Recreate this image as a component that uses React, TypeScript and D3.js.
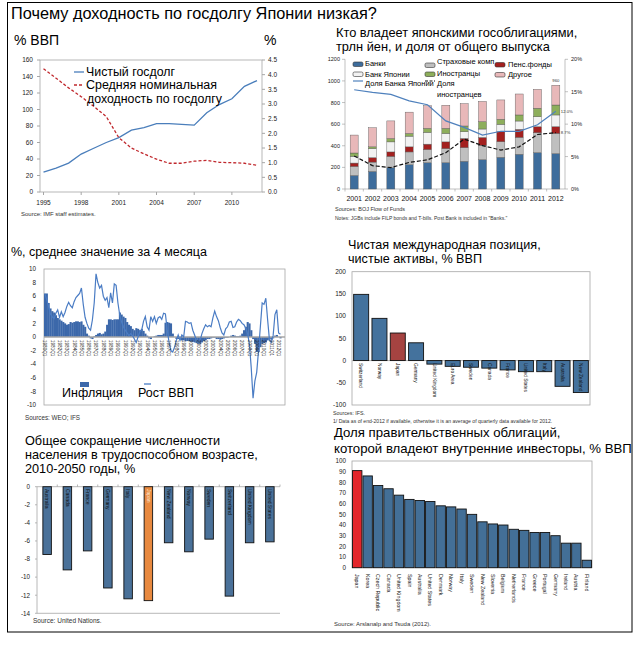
import React from "react";
import * as d3 from "d3";

const FONT = "'Liberation Sans', Arial, Helvetica, sans-serif";

// ---------------- Panel 1: net debt & average yield
const debtYears = [1995, 1996, 1997, 1998, 1999, 2000, 2001, 2002, 2003, 2004, 2005, 2006, 2007, 2008, 2009, 2010, 2011, 2012];
const netDebt = [24, 29, 35, 46, 53, 60, 66, 75, 78, 83, 83, 82, 81, 96, 106, 113, 128, 135];
const avgYield = [4.2, 3.88, 3.55, 3.25, 2.92, 2.57, 1.85, 1.5, 1.3, 1.12, 0.98, 0.98, 1.05, 1.08, 1.01, 1.0, 0.98, 0.91];
const debtTickYears = [1995, 1998, 2001, 2004, 2007, 2010];
const debtLeftTicks = [0, 20, 40, 60, 80, 100, 120, 140, 160];
const debtRightTicks = [0, 0.5, 1, 1.5, 2, 2.5, 3, 3.5, 4, 4.5];

// ---------------- Panel 2: JGB holders
const jgbYears = ["2001", "2002", "2003", "2004", "2005", "2006", "2007", "2008", "2009", "2010", "2011", "2012"];
const jgbBanks = [125, 162, 196, 224, 243, 243, 256, 271, 293, 321, 336, 327];
const jgbInsurers = [84, 87, 106, 119, 122, 131, 127, 134, 145, 157, 185, 188];
const jgbPension = [31, 41, 41, 47, 50, 62, 85, 72, 93, 74, 56, 62];
const jgbBoj = [62, 84, 93, 99, 109, 78, 62, 78, 67, 77, 92, 108];
const jgbForeign = [31, 16, 31, 25, 37, 47, 53, 68, 47, 56, 78, 92];
const jgbOther = [166, 177, 163, 197, 209, 214, 207, 187, 179, 194, 175, 183];
const bojShare = [15.3, 14.9, 14.6, 13.6, 13.0, 10.5, 9.5, 8.3, 8.9, 8.9, 9.9, 12.0];
const foreignShare = [5.1, 3.6, 3.3, 4.1, 4.5, 5.6, 7.7, 6.7, 6.0, 6.5, 8.4, 8.7];
const jgbLeftTicks = [0, 200, 400, 600, 800, 1000, 1200];
const jgbRightTicks = [0, 5, 10, 15, 20];

// ---------------- Panel 3: inflation & GDP growth (quarterly)
const quarterLabelYears = d3.range(1980, 2013);
const inflation = [
  6.4, 6.4, 5.0, 4.2, 3.8, 3.6, 3.2, 2.8, 2.6, 2.4, 2.2, 2.0, 1.8, 1.9, 2.2, 2.1, 2.2, 2.3, 2.3, 2.2,
  2.3, 1.8, 1.5, 0.5, 0.2, -0.2, -0.3, 0.1, 0.3, 0.5, 0.6, 0.4, 0.5, 0.8, 1.8, 2.6, 2.6, 2.5, 2.6, 2.6,
  2.6, 3.6, 3.3, 3.0, 2.8, 2.2, 1.8, 1.6, 1.2, 1.0, 1.3, 1.2, 1.0, 1.2, 0.9, 0.5, 0.2, -0.2, -0.3, 0.0,
  0.1, 0.2, 0.3, 0.3, 0.3, 0.5, 2.1, 2.2, 2.1, 2.0, 0.5, 0.0, -0.3, -0.3, -0.1, -0.5, -0.5, -0.6, -0.6, -0.6,
  -0.7, -0.7, -0.8, -0.9, -1.0, -1.0, -0.8, -0.6, -0.5, -0.3, -0.3, -0.2, -0.1, -0.1, -0.3, -0.3, -0.4, -0.3, -0.2, -0.1,
  -0.1, 0.0, 0.2, 0.3, 0.2, 0.1, 0.1, 0.2, 0.5, 1.0, 1.5, 2.2, 2.0, 1.0, -0.3, -1.0, -2.2, -2.2, -1.5, -1.0,
  -0.9, -0.8, -0.5, -0.3, -0.4, -0.2, 0.2, 0.3, 0.0, -0.2,
];
const gdpGrowth = [
  6.3, 5.5, 4.5, 3.4, 3.0, 2.7, 3.5, 4.0, 2.9, 3.7, 3.0, 3.6, 4.5, 5.1, 4.6, 4.3, 5.2, 5.8, 6.1, 6.4,
  7.2, 4.8, 2.9, 2.0, 1.3, 1.0, 2.5, 5.0, 9.3, 8.0, 7.2, 7.6, 6.0, 5.4, 5.8, 4.3, 6.5, 5.0, 7.8, 7.6,
  5.0, 3.2, 2.2, 1.5, 1.0, 0.6, 0.2, 0.5, 0.2, -0.3, -0.8, 0.0, 0.8, 1.0, 2.3, 3.0, 1.5, 1.0, 3.0, 2.3,
  3.0, 2.0, 2.8, 3.0, 2.6, 3.5, 3.4, 1.0, -0.8, -2.0, -2.2, -1.5, -0.5, 0.3, -0.5, 0.3, 0.0, 2.3, 2.2, 2.0,
  2.1, 1.0, 0.3, -0.5, -0.8, -0.5, 0.5, 1.2, 1.8, 1.5, 1.7, 1.5, 2.8, 3.8, 3.0, 2.4, 1.4, 0.6, 0.3, 1.2,
  1.5, 2.2, 2.3, 1.4, 1.5, 2.2, 2.6, 2.4, 2.0, 1.8, 1.3, 0.5, -1.0, -4.5, -9.0, -6.5, -5.2, -2.0, 1.5, 5.0,
  4.8, 5.7, 2.5, -0.5, -0.8, 0.2, 3.3, 4.0, 0.6, 0.4,
];
const macroTicks = [10, 8, 6, 4, 2, 0, -2, -4, -6, -8, -10];

// ---------------- Panel 4: net international investment position
const niipCountries = ["Switzerland", "Norway", "Japan", "Germany", "United Kingdom", "Euro Area", "Sweden", "Canada", "France", "United States", "Italy", "Australia", "New Zealand"];
const niipValues = [149, 95, 62, 40, -8, -13, -15, -17, -21, -25, -25, -58, -72];
const niipTicks = [200, 150, 100, 50, 0, -50, -100];

// ---------------- Panel 5: working-age population decline
const popCountries = ["Australia", "Canada", "France", "Germany", "Italy", "Japan", "New Zealand", "Norway", "Sweden", "Switzerland", "United Kingdom", "United States"];
const popValues = [-7.5, -9.2, -7.1, -11.2, -12.4, -12.6, -6.2, -7.2, -5.8, -12.1, -6.2, -6.1];
const popTicks = [0, -2, -4, -6, -8, -10, -12, -14];

// ---------------- Panel 6: share held by domestic investors
const domCountries = ["Japan", "Korea", "Czech Republic", "Canada", "United Kingdom", "Spain", "Australia", "United States", "Denmark", "Norway", "Italy", "Sweden", "New Zealand", "Slovenia", "Belgium", "Netherlands", "France", "Greece", "Portugal", "Germany", "Ireland", "Austria", "Finland"];
const domValues = [91, 86, 77, 74, 68, 64, 63, 62, 58, 57, 55, 50, 43, 41, 40, 36, 35, 33, 33, 30, 23, 23, 7];
const domTicks = [100, 90, 80, 70, 60, 50, 40, 30, 20, 10, 0];

const VText = ({ x, y, text, size, fill = "#111" }: any) => (
  <text transform={`translate(${x},${y}) rotate(90)`} fontSize={size} fill={fill} dy="0.35em" textAnchor="start" fontFamily={FONT}>
    {text}
  </text>
);

function Panel1() {
  const x = d3.scaleLinear().domain([1995, 2012]).range([43.5, 257]);
  const yL = d3.scaleLinear().domain([0, 160]).range([192, 60]);
  const yR = d3.scaleLinear().domain([0, 4.5]).range([192, 60]);
  const debtLine = d3.line<number>().x((_, i) => x(debtYears[i])).y((d) => yL(d))(netDebt) || "";
  const yieldLine = d3.line<number>().x((_, i) => x(debtYears[i])).y((d) => yR(d))(avgYield) || "";
  return (
    <g fontFamily={FONT}>
      <text x={14} y={45} fontSize={14}>% ВВП</text>
      <text x={264} y={45} fontSize={14}>%</text>
      <rect x={40} y={60} width={222} height={132} fill="none" stroke="#A6A6A6" strokeWidth={0.8} />
      {debtLeftTicks.map((t) => (
        <g key={t}>
          <line x1={37} x2={40} y1={yL(t)} y2={yL(t)} stroke="#A6A6A6" />
          <text x={33} y={yL(t) + 2.3} fontSize={6.5} textAnchor="end" fill="#222">{t}</text>
        </g>
      ))}
      {debtRightTicks.map((t) => (
        <g key={t}>
          <line x1={262} x2={265} y1={yR(t)} y2={yR(t)} stroke="#A6A6A6" />
          <text x={268} y={yR(t) + 2.3} fontSize={6.5} fill="#222">{t.toFixed(1)}</text>
        </g>
      ))}
      {debtTickYears.map((t) => (
        <g key={t}>
          <line x1={x(t)} x2={x(t)} y1={192} y2={195} stroke="#A6A6A6" />
          <text x={x(t)} y={205} fontSize={6.5} textAnchor="middle" fill="#222">{t}</text>
        </g>
      ))}
      <path d={debtLine} fill="none" stroke="#4A7EBB" strokeWidth={1.3} />
      <path d={yieldLine} fill="none" stroke="#C0282D" strokeWidth={1.3} strokeDasharray="3,2" />
      <line x1={74} x2={84} y1={72} y2={72} stroke="#4A7EBB" strokeWidth={1.3} />
      <text x={86} y={76} fontSize={12} textLength={89} lengthAdjust="spacingAndGlyphs">Чистый госдолг</text>
      <line x1={74} x2={84} y1={85} y2={85} stroke="#C0282D" strokeWidth={1.3} strokeDasharray="3,2" />
      <text x={86} y={89} fontSize={12} textLength={131} lengthAdjust="spacingAndGlyphs">Средняя номинальная</text>
      <text x={87} y={103} fontSize={12} textLength={135} lengthAdjust="spacingAndGlyphs">доходность по госдолгу</text>
      <text x={21} y={216} fontSize={6} fill="#333">Source: IMF staff estimates.</text>
    </g>
  );
}

function Panel2() {
  const x = d3.scaleBand().domain(jgbYears).range([345, 565]);
  const y = d3.scaleLinear().domain([0, 1200]).range([189, 59.3]);
  const yR = d3.scaleLinear().domain([0, 20]).range([189, 59.3]);
  const keys = ["banks", "insurers", "pension", "boj", "foreign", "other"];
  const colors: Record<string, string> = {
    banks: "#3E6D9C",
    insurers: "#BFBFBF",
    pension: "#A3201F",
    boj: "#F2F2F2",
    foreign: "#8DAE5B",
    other: "#E8B8B9",
  };
  const rows = jgbYears.map((yr, i) => ({
    year: yr,
    banks: jgbBanks[i],
    insurers: jgbInsurers[i],
    pension: jgbPension[i],
    boj: jgbBoj[i],
    foreign: jgbForeign[i],
    other: jgbOther[i],
  }));
  const stacked = d3.stack<any>().keys(keys)(rows);
  const bw = 8;
  const cx = (yr: string) => (x(yr) || 0) + x.bandwidth() / 2;
  const bojLine = d3.line<number>().x((_, i) => cx(jgbYears[i])).y((d) => yR(d))(bojShare) || "";
  const forLine = d3.line<number>().x((_, i) => cx(jgbYears[i])).y((d) => yR(d))(foreignShare) || "";
  const sw = (sx: number, sy: number, c: string) => (
    <rect x={sx} y={sy} width={10} height={4.5} rx={1.5} fill={c} stroke="#333" strokeWidth={0.6} />
  );
  const totalLast = rows[11].banks + rows[11].insurers + rows[11].pension + rows[11].boj + rows[11].foreign + rows[11].other;
  return (
    <g fontFamily={FONT}>
      <text x={336} y={37} fontSize={12.8}>Кто владеет японскими гособлигациями,</text>
      <text x={336} y={51} fontSize={12.8}>трлн йен, и доля от общего выпуска</text>
      <line x1={345} x2={345} y1={59.3} y2={189} stroke="#999" strokeWidth={0.6} />
      <line x1={565} x2={565} y1={59.3} y2={189} stroke="#999" strokeWidth={0.6} />
      <line x1={345} x2={565} y1={189} y2={189} stroke="#999" strokeWidth={0.6} />
      {jgbLeftTicks.map((t) => (
        <g key={t}>
          <line x1={342} x2={345} y1={y(t)} y2={y(t)} stroke="#999" strokeWidth={0.6} />
          <text x={340} y={y(t) + 2} fontSize={5.5} textAnchor="end" fill="#222">{t}</text>
        </g>
      ))}
      {jgbRightTicks.map((t) => (
        <g key={t}>
          <line x1={565} x2={568} y1={yR(t)} y2={yR(t)} stroke="#999" strokeWidth={0.6} />
          <text x={571} y={yR(t) + 2} fontSize={5.5} fill="#222">{t}%</text>
        </g>
      ))}
      {jgbYears.map((yr) => (
        <g key={yr}>
          <line x1={x(yr)} x2={x(yr)} y1={189} y2={191.5} stroke="#999" strokeWidth={0.6} />
          <text x={cx(yr)} y={201} fontSize={7} textAnchor="middle" fill="#111">{yr}</text>
        </g>
      ))}
      {stacked.map((s) => (
        <g key={s.key}>
          {s.map((d, i) => (
            <rect
              key={i}
              x={cx(jgbYears[i]) - bw / 2}
              width={bw}
              y={y(d[1])}
              height={y(d[0]) - y(d[1])}
              fill={colors[s.key]}
              stroke="#555"
              strokeWidth={0.4}
            />
          ))}
        </g>
      ))}
      <path d={bojLine} fill="none" stroke="#4F81BD" strokeWidth={1.2} />
      <path d={forLine} fill="none" stroke="#111" strokeWidth={1.2} strokeDasharray="4,2" />
      <text x={cx("2012")} y={y(totalLast) - 3} fontSize={4.2} textAnchor="middle" fill="#333">{totalLast}</text>
      <text x={cx("2012") + 5} y={yR(bojShare[11]) + 1.5} fontSize={4.2} fill="#333">{bojShare[11].toFixed(1)}%</text>
      <text x={cx("2012") + 5} y={yR(foreignShare[11]) + 1.5} fontSize={4.2} fill="#333">{foreignShare[11].toFixed(1)}%</text>
      {sw(353, 62, colors.banks)}
      <text x={365} y={66} fontSize={7.5}>Банки</text>
      {sw(353, 72, colors.boj)}
      <text x={365} y={76.5} fontSize={7.5}>Банк Японии</text>
      <line x1={353} x2={363} y1={81} y2={81} stroke="#4F81BD" strokeWidth={1.2} />
      <text x={365} y={86} fontSize={7.5}>Доля Банка Японии</text>
      {sw(425, 63, colors.insurers)}
      <text x={437} y={64} fontSize={7.5}>Страховые комп</text>
      {sw(425, 72, colors.foreign)}
      <text x={437} y={76} fontSize={7.5}>Иностранцы</text>
      <line x1={425} x2={435} y1={81} y2={81} stroke="#111" strokeWidth={1.2} strokeDasharray="3,1.5" />
      <text x={437} y={86} fontSize={7.5}>Доля</text>
      <text x={437} y={97} fontSize={7.5}>иностранцев</text>
      {sw(495, 62.5, colors.pension)}
      <text x={508} y={66.5} fontSize={7.5}>Пенс.фонды</text>
      {sw(495, 72.5, colors.other)}
      <text x={508} y={77} fontSize={7.5}>Другое</text>
      <text x={335} y={211} fontSize={5.5} fill="#333">Sources: BOJ Flow of Funds</text>
      <text x={335} y={219.5} fontSize={5} fill="#333">Notes: JGBs include FILP bonds and T-bills. Post Bank is included in "Banks."</text>
    </g>
  );
}

function Panel3() {
  const N = 132;
  const x = d3.scaleLinear().domain([-0.5, N - 0.5]).range([44, 285]);
  const y = d3.scaleLinear().domain([-10, 10]).range([405, 269]);
  const step = x(1) - x(0);
  const gdpLine = d3.line<number>().x((_, i) => x(i)).y((d) => y(d))(gdpGrowth) || "";
  return (
    <g fontFamily={FONT}>
      <text x={11} y={256} fontSize={12.5}>%, среднее значение за 4 месяца</text>
      <rect x={44} y={269} width={241} height={136} fill="none" stroke="#A6A6A6" strokeWidth={0.8} />
      {macroTicks.map((t) => (
        <text key={t} x={36} y={y(t) + 2.2} fontSize={6.3} textAnchor="end" fill="#222">{t}</text>
      ))}
      {inflation.map((v, i) => (
        <rect key={i} x={x(i) - step / 2} width={step + 0.25} y={y(Math.max(0, v))} height={Math.abs(y(v) - y(0))} fill="#3C68AA" />
      ))}
      <line x1={44} x2={285} y1={y(0)} y2={y(0)} stroke="#A6A6A6" strokeWidth={1.4} />
      <path d={gdpLine} fill="none" stroke="#4A7CC4" strokeWidth={1.2} />
      {quarterLabelYears.map((yr, k) => (
        <VText key={yr} x={x(k * 4)} y={340} text={`${yr}Q1`} size={4.6} fill="#222" />
      ))}
      <rect x={80} y={382} width={9} height={5} fill="#3C68AA" />
      <text x={62} y={397} fontSize={12.5}>Инфляция</text>
      <line x1={144} x2={151} y1={384} y2={384} stroke="#4A7CC4" strokeWidth={1.3} />
      <text x={138} y={397} fontSize={12.5}>Рост ВВП</text>
      <text x={25} y={420} fontSize={6.3} fill="#333">Sources: WEO; IFS</text>
    </g>
  );
}

function Panel4() {
  const x = d3.scaleBand().domain(niipCountries).range([352, 590]).paddingInner(0.18).paddingOuter(0.09);
  const y = d3.scaleLinear().domain([-100, 200]).range([405, 271.7]);
  return (
    <g fontFamily={FONT}>
      <text x={348} y={249} fontSize={12.6}>Чистая международная позиция,</text>
      <text x={348} y={263} fontSize={12.6}>чистые активы, % ВВП</text>
      <rect x={352} y={271.7} width={238} height={133.3} fill="none" stroke="#A6A6A6" strokeWidth={0.8} />
      {niipTicks.map((t) => (
        <text key={t} x={346} y={y(t) + 2.3} fontSize={6.5} textAnchor="end" fill="#222">{t}</text>
      ))}
      <line x1={352} x2={590} y1={y(0)} y2={y(0)} stroke="#A6A6A6" strokeWidth={0.8} />
      {niipValues.map((v, i) => (
        <rect
          key={i}
          x={x(niipCountries[i])}
          width={x.bandwidth()}
          y={y(Math.max(0, v))}
          height={Math.abs(y(v) - y(0))}
          fill={niipCountries[i] === "Japan" ? "#A54341" : "#44729D"}
          stroke="#111"
          strokeWidth={0.9}
        />
      ))}
      {niipCountries.map((c) => (
        <VText key={c} x={(x(c) || 0) + x.bandwidth() / 2} y={363} text={c} size={4.8} />
      ))}
      <text x={333} y={415} fontSize={5.3} fill="#333">Sources:  IFS.</text>
      <text x={333} y={423} fontSize={5.1} fill="#333">1/ Data as of end-2012 if available, otherwise it is an average of quarterly data available for 2012.</text>
    </g>
  );
}

function Panel5() {
  const x = d3.scaleBand().domain(popCountries).range([37, 280]).paddingInner(0.58).paddingOuter(0.29);
  const y = d3.scaleLinear().domain([-14, 0]).range([613.3, 486.7]);
  const step = x.step();
  return (
    <g fontFamily={FONT}>
      <text x={25} y={445} fontSize={12.7}>Общее сокращение численности</text>
      <text x={25} y={459.3} fontSize={12.7}>населения в трудоспособном возрасте,</text>
      <text x={25} y={473} fontSize={12.7}>2010-2050 годы, %</text>
      <line x1={37} x2={37} y1={486.7} y2={613.3} stroke="#A6A6A6" strokeWidth={0.8} />
      <line x1={37} x2={280} y1={613.3} y2={613.3} stroke="#A6A6A6" strokeWidth={0.8} />
      <line x1={37} x2={280} y1={486.7} y2={486.7} stroke="#A6A6A6" strokeWidth={0.8} />
      {popCountries.map((c, i) => (
        <line key={c} x1={37 + step * (i + 1)} x2={37 + step * (i + 1)} y1={484.5} y2={486.7} stroke="#A6A6A6" strokeWidth={0.8} />
      ))}
      {popTicks.map((t) => (
        <g key={t}>
          <line x1={35} x2={37} y1={y(t)} y2={y(t)} stroke="#A6A6A6" strokeWidth={0.8} />
          <text x={30} y={y(t) + 2.3} fontSize={6.3} textAnchor="end" fill="#222">{t}</text>
        </g>
      ))}
      {popValues.map((v, i) => (
        <rect
          key={i}
          x={x(popCountries[i])}
          width={x.bandwidth()}
          y={y(0)}
          height={y(v) - y(0)}
          fill={popCountries[i] === "Japan" ? "#E8893F" : "#4A7199"}
          stroke="#111"
          strokeWidth={0.9}
        />
      ))}
      {popCountries.map((c) => (
        <VText key={c} x={(x(c) || 0) + x.bandwidth() / 2} y={489} text={c} size={5} fill={c === "Japan" ? "#FBE3D0" : "#111"} />
      ))}
      <text x={33} y={623} fontSize={6.5} fill="#333">Source: United Nations.</text>
    </g>
  );
}

function Panel6() {
  const x = d3.scaleBand().domain(domCountries).range([352, 592]).paddingInner(0.1).paddingOuter(0.05);
  const y = d3.scaleLinear().domain([0, 100]).range([567.7, 461]);
  return (
    <g fontFamily={FONT}>
      <text x={334} y={437} fontSize={13.2}>Доля правительственных облигаций,</text>
      <text x={334} y={452.7} fontSize={13.2}>которой владеют внутренние инвесторы, % ВВП</text>
      <rect x={352} y={461} width={240} height={106.7} fill="none" stroke="#A6A6A6" strokeWidth={0.8} />
      {domTicks.map((t) => (
        <text key={t} x={346} y={y(t) + 2.3} fontSize={6.3} textAnchor="end" fill="#222">{t}</text>
      ))}
      {domValues.map((v, i) => (
        <rect
          key={i}
          x={x(domCountries[i])}
          width={x.bandwidth()}
          y={y(v)}
          height={y(0) - y(v)}
          fill={domCountries[i] === "Japan" ? "#E3262B" : "#436F97"}
          stroke="#111"
          strokeWidth={0.9}
        />
      ))}
      {domCountries.map((c) => (
        <VText key={c} x={(x(c) || 0) + x.bandwidth() / 2} y={574} text={c} size={5.3} />
      ))}
      <text x={334} y={626} fontSize={6} fill="#333">Source: Arslanalp and Tsuda (2012).</text>
    </g>
  );
}

export default function App() {
  return (
    <svg width={642} height={649} style={{ position: "absolute", left: 0, top: 0, background: "#fff" }}>
      <rect x={0} y={0} width={642} height={649} fill="#fff" />
      <rect x={7.5} y={2.5} width={624.5} height={629.5} fill="none" stroke="#000" strokeWidth={1} />
      <text x={11} y={19} fontSize={16.3} fontFamily={FONT}>Почему доходность по госдолгу Японии низкая?</text>
      <Panel1 />
      <Panel2 />
      <Panel3 />
      <Panel4 />
      <Panel5 />
      <Panel6 />
    </svg>
  );
}
